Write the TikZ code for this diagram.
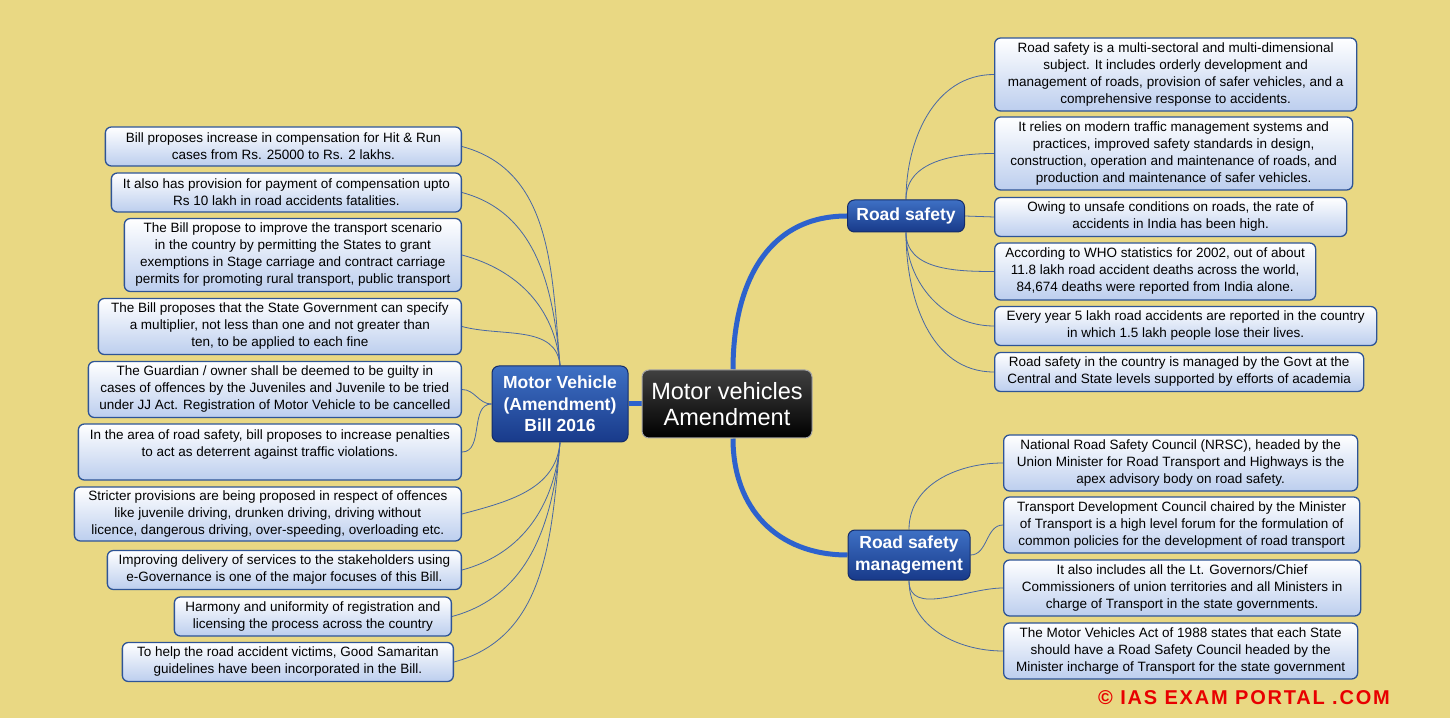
\documentclass[tikz,border=0pt]{standalone}
\usepackage{fontspec}
\setmainfont{Liberation Sans}
\usetikzlibrary{backgrounds}

\definecolor{bgyellow}{RGB}{233,216,131}
\definecolor{leafblue}{RGB}{188,206,238}
\definecolor{leafedge}{RGB}{46,84,150}
\definecolor{linkblue}{RGB}{72,104,165}
\definecolor{trunkblue}{RGB}{45,98,205}
\definecolor{branchtop}{RGB}{62,112,196}
\definecolor{branchbot}{RGB}{24,58,138}
\definecolor{branchedge}{RGB}{20,44,105}
\definecolor{copyred}{RGB}{232,0,0}

\begin{document}
\begin{tikzpicture}[
  x=1pt, y=1pt,
  leaf/.style={draw=leafedge, line width=1.3pt, rounded corners=6pt,
    top color=white, bottom color=leafblue, align=center,
    inner xsep=3pt, inner ysep=3pt, minimum height=39,
    font=\fontsize{13.5}{17}\selectfont},
  branch/.style={draw=branchedge, line width=1pt, rounded corners=7pt,
    top color=branchtop, bottom color=branchbot, text=white, align=center,
    inner xsep=2pt, font=\fontsize{17.5}{21.5}\selectfont\bfseries},
  link/.style={draw=linkblue, line width=0.8pt},
  trunk/.style={draw=trunkblue, line width=5pt},
]
\useasboundingbox (0,0) rectangle (1450,718);

% centre and main branches
\node[draw=gray!70, line width=1pt, rounded corners=7pt, top color=black!75, bottom color=black,
  text=white, align=center, minimum width=170, minimum height=68, inner xsep=2pt,
  font=\fontsize{23.5}{26}\selectfont] (ctr) at (727,314) {Motor vehicles\\Amendment};
\node[branch, minimum width=136, minimum height=76] (mv) at (560,314) {Motor Vehicle\\(Amendment)\\Bill 2016};
\node[branch, minimum width=117, minimum height=32] (rs) at (906,502) {Road safety};
\node[branch, minimum width=122, minimum height=50] (rsm) at (909,163) {Road safety\\management};

% bill leaves
\node[leaf, anchor=east, minimum width=356] (L1) at (462,571.5) {Bill proposes increase in compensation for Hit \& Run\\cases from Rs. 25000 to Rs. 2 lakhs.};
\node[leaf, anchor=east, minimum width=350] (L2) at (462,525.5) {It also has provision for payment of compensation upto\\Rs 10 lakh in road accidents fatalities.};
\node[leaf, anchor=east, minimum width=337, minimum height=73] (L3) at (462,463) {The Bill propose to improve the transport scenario\\in the country by permitting the States to grant\\exemptions in Stage carriage and contract carriage\\permits for promoting rural transport, public transport};
\node[leaf, anchor=east, minimum width=363, minimum height=56] (L4) at (462,391.5) {The Bill proposes that the State Government can specify\\a multiplier, not less than one and not greater than\\ten, to be applied to each fine};
\node[leaf, anchor=east, minimum width=373, minimum height=56] (L5) at (462,328.5) {The Guardian / owner shall be deemed to be guilty in\\cases of offences by the Juveniles and Juvenile to be tried\\under JJ Act. Registration of Motor Vehicle to be cancelled};
\node[leaf, anchor=east, minimum width=383, minimum height=56] (L6) at (462,266) {In the area of road safety, bill proposes to increase penalties\\to act as deterrent against traffic violations.\\~};
\node[leaf, anchor=east, minimum width=387, minimum height=54] (L7) at (462,204) {Stricter provisions are being proposed in respect of offences\\like juvenile driving, drunken driving, driving without\\licence, dangerous driving, over-speeding, overloading etc.};
\node[leaf, anchor=east, minimum width=354] (L8) at (462,148) {Improving delivery of services to the stakeholders using\\e-Governance is one of the major focuses of this Bill.};
\node[leaf, anchor=east, minimum width=277] (L9) at (452,101.5) {Harmony and uniformity of registration and\\licensing the process across the country};
\node[leaf, anchor=east, minimum width=331] (L10) at (454,56) {To help the road accident victims, Good Samaritan\\guidelines have been incorporated in the Bill.};

% road safety leaves
\node[leaf, anchor=west, minimum width=362, minimum height=73] (R1) at (994,643.5) {Road safety is a multi-sectoral and multi-dimensional\\subject. It includes orderly development and\\management of roads, provision of safer vehicles, and a\\comprehensive response to accidents.};
\node[leaf, anchor=west, minimum width=358, minimum height=73] (R2) at (994,564.5) {It relies on modern traffic management systems and\\practices, improved safety standards in design,\\construction, operation and maintenance of roads, and\\production and maintenance of safer vehicles.};
\node[leaf, anchor=west, minimum width=352] (R3) at (994,501) {Owing to unsafe conditions on roads, the rate of\\accidents in India has been high.};
\node[leaf, anchor=west, minimum width=321, minimum height=57] (R4) at (994,446.5) {According to WHO statistics for 2002, out of about\\11.8 lakh road accident deaths across the world,\\84,674 deaths were reported from India alone.};
\node[leaf, anchor=west, minimum width=382] (R5) at (994,392) {Every year 5 lakh road accidents are reported in the country\\in which 1.5 lakh people lose their lives.};
\node[leaf, anchor=west, minimum width=369] (R6) at (994,346) {Road safety in the country is managed by the Govt at the\\Central and State levels supported by efforts of academia};

% management leaves
\node[leaf, anchor=west, minimum width=354, minimum height=56] (R7) at (1003,255) {National Road Safety Council (NRSC), headed by the\\Union Minister for Road Transport and Highways is the\\apex advisory body on road safety.};
\node[leaf, anchor=west, minimum width=356, minimum height=56] (R8) at (1003,193) {Transport Development Council chaired by the Minister\\of Transport is a high level forum for the formulation of\\common policies for the development of road transport};
\node[leaf, anchor=west, minimum width=357, minimum height=56] (R9) at (1003,130) {It also includes all the Lt. Governors/Chief\\Commissioners of union territories and all Ministers in\\charge of Transport in the state governments.};
\node[leaf, anchor=west, minimum width=354, minimum height=56] (R10) at (1003,67) {The Motor Vehicles Act of 1988 states that each State\\should have a Road Safety Council headed by the\\Minister incharge of Transport for the state government};

\node[text=copyred, font=\fontsize{20}{24}\selectfont\bfseries\addfontfeature{LetterSpace=9}] (copy) at (1244,20) {\textcopyright\ IAS EXAM PORTAL .COM};

% connectors behind the boxes
\begin{scope}[on background layer]
\fill[bgyellow] (0,0) rectangle (1450,718);
\draw[trunk] (ctr.west) -- (mv.east);
\draw[trunk] ([xshift=6]ctr.north) to[out=90, in=180, looseness=1.1] (rs.west);
\draw[trunk] ([xshift=6]ctr.south) to[out=-90, in=180, looseness=1.1] (rsm.west);
\foreach \n in {L1,L2,L3,L4}
  \draw[link] (mv.north) to[out=95, in=-15] (\n.east);
\foreach \n in {L5,L6}
  \draw[link] (mv.west) to[out=180, in=0] (\n.east);
\foreach \n in {L7,L8,L9,L10}
  \draw[link] (mv.south) to[out=-95, in=15] (\n.east);
\foreach \n in {R1,R2}
  \draw[link] (rs.north) to[out=90, in=180] (\n.west);
\draw[link] (rs.east) -- (R3.west);
\foreach \n in {R4,R5,R6}
  \draw[link] (rs.south) to[out=-90, in=180] (\n.west);
\draw[link] (rsm.north) to[out=90, in=180] (R7.west);
\draw[link] (rsm.east) to[out=0, in=180] (R8.west);
\foreach \n in {R9,R10}
  \draw[link] (rsm.south) to[out=-90, in=180] (\n.west);
\end{scope}
\end{tikzpicture}
\end{document}
